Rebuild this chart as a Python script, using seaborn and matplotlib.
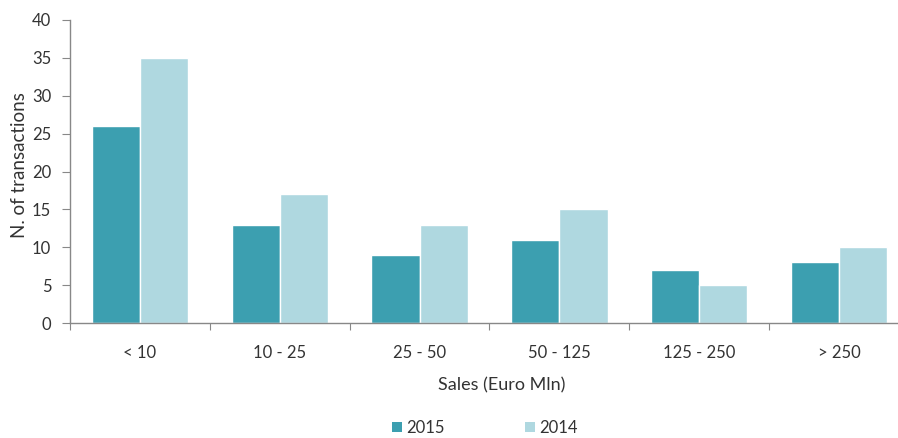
import matplotlib
matplotlib.use("Agg")
import matplotlib.pyplot as plt
import seaborn as sns
import pandas as pd
import numpy as np
from matplotlib.patches import Patch

categories = ["< 10", "10 - 25", "25 - 50", "50 - 125", "125 - 250", "> 250"]
years = ["2015", "2014"]
values_2015 = [26, 13, 9, 11, 7, 8]
values_2014 = [35, 17, 13, 15, 5, 10]
colors = {"2015": "#3c9fb0", "2014": "#afd8e0"}

df = pd.DataFrame({
    "Sales": categories * 2,
    "Year": ["2015"] * len(categories) + ["2014"] * len(categories),
    "N": values_2015 + values_2014,
})

sns.set_style("white")
plt.rcParams["font.family"] = ["Lato", "DejaVu Sans"]

fig = plt.figure(figsize=(8.98, 4.38), dpi=100)
ax = fig.add_axes([70 / 898, (438 - 323) / 438, 839 / 898, (323 - 20) / 438])

sns.barplot(data=df, x="Sales", y="N", hue="Year", hue_order=years,
            order=categories, palette=colors, width=0.69, gap=0,
            saturation=1, ax=ax, legend=False)

txt = "#333333"
ax.set_xlim(-0.5, 5.5)
ax.set_ylim(0, 40)
ax.set_yticks(np.arange(0, 41, 5))
ax.tick_params(axis="y", length=5.5, width=0.8, color="#888888", direction="out",
               labelsize=12, labelcolor=txt, pad=8, left=True)
ax.tick_params(axis="x", which="major", length=0, labelsize=12,
               labelcolor=txt, pad=16)
ax.set_xticks(np.arange(-0.5, 6.0, 1.0), minor=True)
ax.tick_params(axis="x", which="minor", length=5, width=0.8, color="#888888",
               direction="out", bottom=True)

for s in ["top", "right"]:
    ax.spines[s].set_visible(False)
for s in ["left", "bottom"]:
    ax.spines[s].set_color("#888888")
    ax.spines[s].set_linewidth(1.0)

ax.set_xlabel("Sales (Euro Mln)", fontsize=13, color=txt)
ax.set_ylabel("N. of transactions", fontsize=13.5, color=txt)
ax.xaxis.set_label_coords(0.514, -0.18)
ax.yaxis.set_label_coords(-0.050, 0.52)

handles = [Patch(facecolor=colors[y], edgecolor="none", label=y) for y in years]
fig.legend(handles=handles, loc="center", bbox_to_anchor=(485 / 898, 1 - 428 / 438),
           ncol=2, frameon=False, fontsize=12, handlelength=0.6, handleheight=0.6,
           handletextpad=0.25, columnspacing=4.8, labelcolor=txt,
           borderpad=0, borderaxespad=0)

fig.savefig("out.png", dpi=100)
